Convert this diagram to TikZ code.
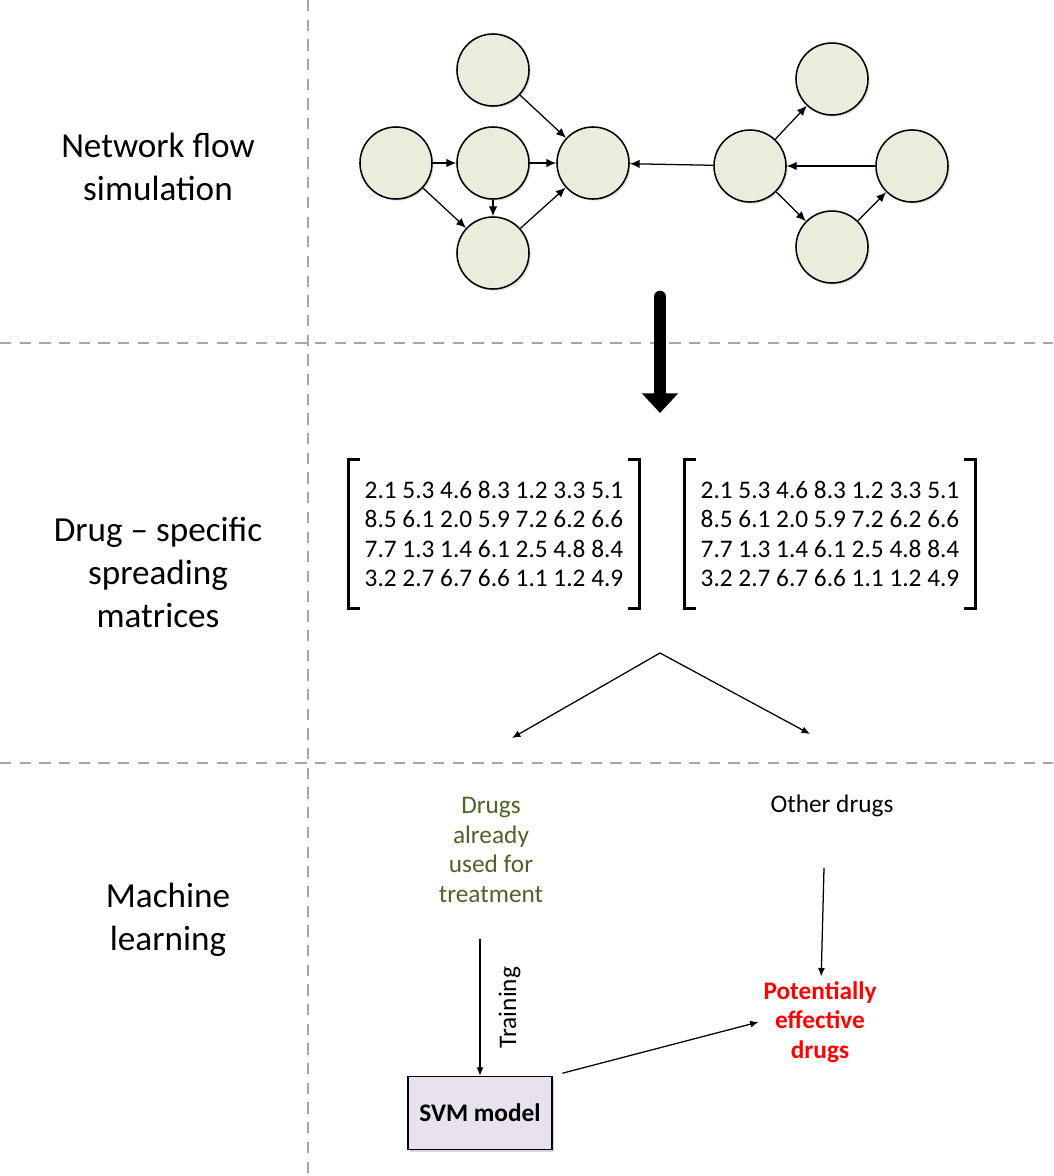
\documentclass[tikz,border=0pt]{standalone}
\usepackage{fontspec}
\setmainfont{Carlito}
\usetikzlibrary{arrows.meta,shadows}

\definecolor{nodefill}{RGB}{232,237,220}
\definecolor{knowngreen}{RGB}{79,98,40}
\definecolor{svmfill}{RGB}{232,226,238}
\definecolor{gridgray}{RGB}{165,165,165}

\tikzset{
    netnode/.style={circle, draw, line width=1.1pt, fill=nodefill, minimum size=1.8cm, inner sep=0pt,
        drop shadow={opacity=0.25, shadow xshift=1.2pt, shadow yshift=-1.2pt}},
    netarrow/.style={-{Latex[length=7pt,width=6pt]}, line width=0.9pt},
    flowarrow/.style={-{Latex[length=6pt,width=5pt]}, line width=0.9pt},
    divider/.style={gridgray, line width=1pt, dash pattern=on 8pt off 6pt},
    rowlabel/.style={align=center, font=\fontsize{25}{30.6}\selectfont},
    smalltext/.style={align=center, font=\fontsize{18}{21}\selectfont},
    matbox/.style={minimum width=7.25cm, minimum height=3.7cm, align=left, font=\fontsize{18}{21}\selectfont},
    bracket/.style={line width=2.2pt},
}

\newcommand{\spreadrows}{2.1 5.3 4.6 8.3 1.2 3.3 5.1\\8.5 6.1 2.0 5.9 7.2 6.2 6.6\\7.7 1.3 1.4 6.1 2.5 4.8 8.4\\3.2 2.7 6.7 6.6 1.1 1.2 4.9}

\begin{document}
\begin{tikzpicture}[x=0.025cm, y=-0.025cm]
    \useasboundingbox (0,0) rectangle (1053,1176);

    % Section dividers
    \draw[divider] (308,0) -- (308,1176);
    \draw[divider] (0,343) -- (1053,343);
    \draw[divider] (0,763) -- (1053,763);

    % Row labels
    \node[rowlabel] (netlabel) at (158,167) {Network flow\\simulation};
    \node[rowlabel] (matlabel) at (158,572) {Drug – specific\\spreading\\matrices};
    \node[rowlabel] (mllabel) at (168,920) {Machine\\learning};

    % Network flow simulation
    \node[netnode] (top) at (493,70) {};
    \node[netnode] (left) at (396,163) {};
    \node[netnode] (mid) at (493,163) {};
    \node[netnode] (bottom) at (493,253) {};
    \node[netnode] (hub) at (593,163) {};
    \node[netnode] (source) at (750,166) {};
    \node[netnode] (topright) at (832,79) {};
    \node[netnode] (right) at (912,166) {};
    \node[netnode] (botright) at (832,247) {};

    \draw[netarrow] (top) -- (hub);
    \draw[netarrow] (left) -- (mid);
    \draw[netarrow] (left) -- (bottom);
    \draw[netarrow] (mid) -- (hub);
    \draw[netarrow] (mid) -- (bottom);
    \draw[netarrow] (bottom) -- (hub);
    \draw[netarrow] (source) -- (hub);
    \draw[netarrow] (source) -- (topright);
    \draw[netarrow] (right) -- (source);
    \draw[netarrow] (source) -- (botright);
    \draw[netarrow] (botright) -- (right);

    % Big arrow down
    \coordinate (flowstart) at (660,297);
    \coordinate (flowend) at (660,413);
    \draw[line width=9pt, line cap=round, -{Triangle[width=25pt,length=14pt]}] (flowstart) -- (flowend);

    % Spreading matrices
    \node[matbox] (matA) at (494,534) {\spreadrows};
    \node[matbox] (matB) at (830,534) {\spreadrows};
    \foreach \m in {matA,matB}{
        \draw[bracket] ([xshift=0.28cm]\m.north west) -| (\m.south west) -- ++(11,0);
        \draw[bracket] ([xshift=-0.28cm]\m.north east) -| (\m.south east) -- ++(-11,0);
    }

    % Split into two groups
    \coordinate (split) at (660,653);
    \coordinate (knownend) at (512,738);
    \coordinate (otherend) at (810,734);
    \draw[flowarrow] (split) -- (knownend);
    \draw[flowarrow] (split) -- (otherend);

    % Machine learning
    \node[smalltext, text=knowngreen] (known) at (491,850) {Drugs\\already\\used for\\treatment};
    \node[smalltext] (other) at (832,806) {Other drugs};
    \node[draw, line width=1.1pt, fill=svmfill, minimum width=3.6cm, minimum height=1.825cm,
        font=\bfseries\fontsize{18}{21}\selectfont,
        drop shadow={opacity=0.3, shadow xshift=1.5pt, shadow yshift=-1.5pt}] (svm) at (480,1113) {SVM model};
    \node[align=center, text=red, font=\bfseries\fontsize{18}{21}\selectfont] (potential) at (820,1022) {Potentially\\effective\\drugs};

    \coordinate (trainstart) at ([yshift=-0.8cm]known.south -| svm.north);
    \draw[flowarrow] (trainstart) -- (svm.north)
        node[midway, rotate=90, anchor=north, inner ysep=0.45cm, smalltext] (trainlabel) {Training};
    \draw[flowarrow] ([yshift=-1.15cm, xshift=-0.2cm]other.south) -- ([xshift=0.03cm]potential.north);
    \draw[flowarrow, shorten <=0.25cm] (svm.north east) -- (potential.west);
\end{tikzpicture}
\end{document}
